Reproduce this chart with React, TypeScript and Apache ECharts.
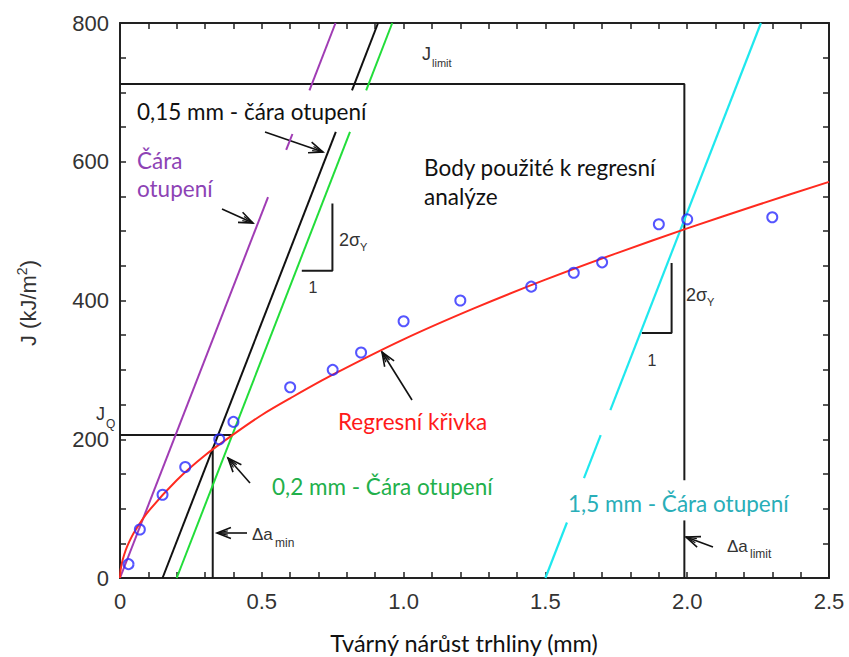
import React, { useEffect, useRef } from "react";
import * as echarts from "echarts";

// ---- data ----
const xTickLabels = ["0", "0.5", "1.0", "1.5", "2.0", "2.5"];
const yTickLabels = ["0", "200", "400", "600", "800"];

const pointsX = [0.03, 0.07, 0.15, 0.23, 0.35, 0.4, 0.6, 0.75, 0.85, 1.0, 1.2, 1.45, 1.6, 1.7, 1.9, 2.0, 2.3];
const pointsJ = [20, 70, 120, 160, 200, 225, 275, 300, 325, 370, 400, 420, 440, 455, 510, 517, 520];

const curveX = [0, 0.002, 0.005, 0.01, 0.02, 0.03, 0.05, 0.1, 0.2, 0.3, 0.4, 0.5, 0.6, 0.75, 1.0, 1.25, 1.5, 1.75, 2.0, 2.25, 2.5];
const curveJ = [0, 11, 18, 27, 40, 50, 66, 96, 141, 177, 207, 235, 259, 293, 344, 389, 430, 468, 504, 538, 571];

// blunting lines (segments, broken where label boxes cover them)
const purpleSegs = [
  [[0, 0], [0.522, 549]],
  [[0.586, 617], [0.608, 640]],
  [[0.668, 703], [0.76, 800]],
];
const blackSegs = [
  [[0.15, 0], [0.761, 643]],
  [[0.818, 703], [0.91, 800]],
];
const greenSegs = [
  [[0.2, 0], [0.811, 643]],
  [[0.868, 703], [0.96, 800]],
];
const cyanSegs = [
  [[1.5, 0], [1.576, 80]],
  [[1.636, 144], [1.695, 206]],
  [[1.729, 242], [2.26, 800]],
];

// construction lines
const jqLine = [[0, 206], [0.397, 206]];
const daMinLine = [[0.327, 0], [0.327, 188]];
const jLimitSegs = [
  [[0, 712], [1.99, 712], [1.99, 141]],
  [[1.99, 83], [1.99, 0]],
];
const slopeLeft = [[0.641, 443], [0.749, 443], [0.749, 540]];
const slopeRight = [[1.84, 353], [1.945, 353], [1.945, 454]];

const AX = "#222";
const LBL = "#333";
const SANS = "'Liberation Sans', Arial, sans-serif";
const CAL = "Lato, 'Open Sans', sans-serif";

function arrow(x1: number, y1: number, x2: number, y2: number) {
  const a = Math.atan2(y2 - y1, x2 - x1);
  const L = 15;
  const w = 0.38;
  const p1 = [x2 - L * Math.cos(a - w), y2 - L * Math.sin(a - w)];
  const p2 = [x2 - L * Math.cos(a + w), y2 - L * Math.sin(a + w)];
  const L2 = 11;
  const w2 = 0.2;
  const q1 = [x2 - L2 * Math.cos(a - w2), y2 - L2 * Math.sin(a - w2)];
  const q2 = [x2 - L2 * Math.cos(a + w2), y2 - L2 * Math.sin(a + w2)];
  const st = { stroke: "#111", lineWidth: 1.6, fill: "none" };
  return [
    { type: "line", shape: { x1, y1, x2, y2 }, style: st },
    { type: "polyline", shape: { points: [p1, [x2, y2], p2] }, style: st },
    { type: "polyline", shape: { points: [q1, [x2, y2], q2] }, style: { ...st, lineWidth: 1.2 } },
  ];
}

function txt(x: number, y: number, text: string, fill: string, fontSize: number, fontFamily: string, align = "left") {
  return {
    type: "text",
    x,
    y,
    z: 100,
    style: { text, fill, fontSize, fontFamily, align, verticalAlign: "middle" },
  };
}

function segSeries(segs: number[][][], color: string, width: number, z: number) {
  return segs.map((s) => ({
    type: "line",
    data: s,
    symbol: "none",
    z,
    silent: true,
    lineStyle: { color, width },
  }));
}

export default function App() {
  const ref = useRef<HTMLDivElement>(null);
  useEffect(() => {
    document.body.style.margin = "0";
    const chart = echarts.init(ref.current!, null, { renderer: "svg" });
    const axisCommon = {
      axisLine: { show: true, onZero: false, lineStyle: { color: AX, width: 2 } },
      axisTick: { show: true, inside: true, length: 6, lineStyle: { color: AX, width: 1.5 } },
      minorTick: { show: true, length: 6, lineStyle: { color: AX, width: 1.5 } },
      splitLine: { show: false },
      minorSplitLine: { show: false },
    };
    const option: any = {
      animation: false,
      backgroundColor: "#fff",
      grid: { left: 120, top: 23, right: 20, bottom: 79 },
      xAxis: [
        {
          type: "value",
          position: "bottom",
          min: 0,
          max: 2.5,
          interval: 0.5,
          ...axisCommon,
          minorTick: { ...axisCommon.minorTick, splitNumber: 5 },
          axisLabel: {
            color: LBL,
            fontSize: 22,
            fontFamily: SANS,
            margin: 12,
            formatter: (v: number) => xTickLabels[Math.round(v / 0.5)],
          },
        },
        {
          type: "value",
          position: "top",
          min: 0,
          max: 2.5,
          interval: 0.5,
          ...axisCommon,
          minorTick: { ...axisCommon.minorTick, splitNumber: 5 },
          axisLabel: { show: false },
        },
      ],
      yAxis: [
        {
          type: "value",
          position: "left",
          min: 0,
          max: 800,
          interval: 200,
          ...axisCommon,
          minorTick: { ...axisCommon.minorTick, splitNumber: 4 },
          axisLabel: {
            color: LBL,
            fontSize: 22,
            fontFamily: SANS,
            margin: 11,
            formatter: (v: number) => yTickLabels[Math.round(v / 200)],
          },
        },
        {
          type: "value",
          position: "right",
          min: 0,
          max: 800,
          interval: 200,
          ...axisCommon,
          minorTick: { ...axisCommon.minorTick, splitNumber: 4 },
          axisLabel: { show: false },
        },
      ],
      series: [
        ...segSeries(jLimitSegs, "#1a1a1a", 2, 2),
        ...segSeries([jqLine, daMinLine, slopeLeft, slopeRight], "#1a1a1a", 2, 2),
        ...segSeries(purpleSegs, "#a03cb4", 2, 3),
        ...segSeries(blackSegs, "#111111", 2, 3),
        ...segSeries(greenSegs, "#22dd3a", 2, 3),
        ...segSeries(cyanSegs, "#1fe8ee", 2.2, 3),
        {
          type: "line",
          data: curveX.map((x, i) => [x, curveJ[i]]),
          symbol: "none",
          smooth: 0.3,
          z: 4,
          lineStyle: { color: "#ff2a1f", width: 2 },
        },
        {
          type: "scatter",
          data: pointsX.map((x, i) => [x, pointsJ[i]]),
          symbol: "circle",
          symbolSize: 10,
          z: 5,
          itemStyle: { color: "rgba(255,255,255,0)", borderColor: "#2a2aff", borderWidth: 2 },
        },
      ],
      graphic: [
        // axis titles
        {
          type: "text",
          x: 28,
          y: 303,
          rotation: Math.PI / 2,
          style: {
            text: "{a|J (kJ/m}{s|2}{a|)}",
            fill: LBL,
            fontSize: 22,
            fontFamily: SANS,
            align: "center",
            verticalAlign: "middle",
            rich: {
              a: { fontSize: 22, fontFamily: SANS, fill: LBL, color: LBL },
              s: { fontSize: 14, fontFamily: SANS, fill: LBL, color: LBL, padding: [0, 0, 12, 0] },
            },
          },
        },
        txt(464, 643, "Tvárný nárůst trhliny (mm)", "#111", 23.5, CAL, "center"),
        // Czech labels
        txt(137, 111, "0,15 mm - čára otupení", "#111", 22.5, CAL),
        txt(137, 160, "Čára", "#8d43b5", 22.5, CAL),
        txt(137, 188, "otupení", "#8d43b5", 22.5, CAL),
        txt(424, 167, "Body použité k regresní", "#111", 22.5, CAL),
        txt(424, 196, "analýze", "#111", 22.5, CAL),
        txt(338, 421, "Regresní křivka", "#ff1a1a", 22.5, CAL),
        txt(272, 486, "0,2 mm - Čára otupení", "#22b04b", 22.5, CAL),
        txt(568, 503, "1,5 mm - Čára otupení", "#29aeb8", 22.5, CAL),
        // symbols with subscripts
        txt(422, 54, "J", LBL, 18, SANS),
        txt(432, 63, "limit", LBL, 11, SANS),
        txt(96, 414, "J", LBL, 18, SANS),
        txt(106, 424, "Q", LBL, 12, SANS),
        txt(252, 534, "Δa", LBL, 17, SANS),
        txt(275, 543, "min", LBL, 12, SANS),
        txt(727, 546, "Δa", LBL, 17, SANS),
        txt(750, 554, "limit", LBL, 12, SANS),
        txt(339, 240, "2σ", LBL, 18, SANS),
        txt(360, 247, "Y", LBL, 11, SANS),
        txt(313, 287, "1", LBL, 16, SANS, "center"),
        txt(686, 295, "2σ", LBL, 18, SANS),
        txt(707, 302, "Y", LBL, 11, SANS),
        txt(652, 360, "1", LBL, 16, SANS, "center"),
        // arrows
        ...arrow(265, 132, 323, 152),
        ...arrow(222, 209, 253, 223),
        ...arrow(412, 400, 382, 352),
        ...arrow(250, 483, 228, 458),
        ...arrow(247, 533, 217, 533),
        ...arrow(713, 547, 686, 537),
      ],
    };
    chart.setOption(option);
    return () => chart.dispose();
  }, []);
  return <div ref={ref} style={{ position: "absolute", left: 0, top: 0, width: 849, height: 657 }} />;
}
